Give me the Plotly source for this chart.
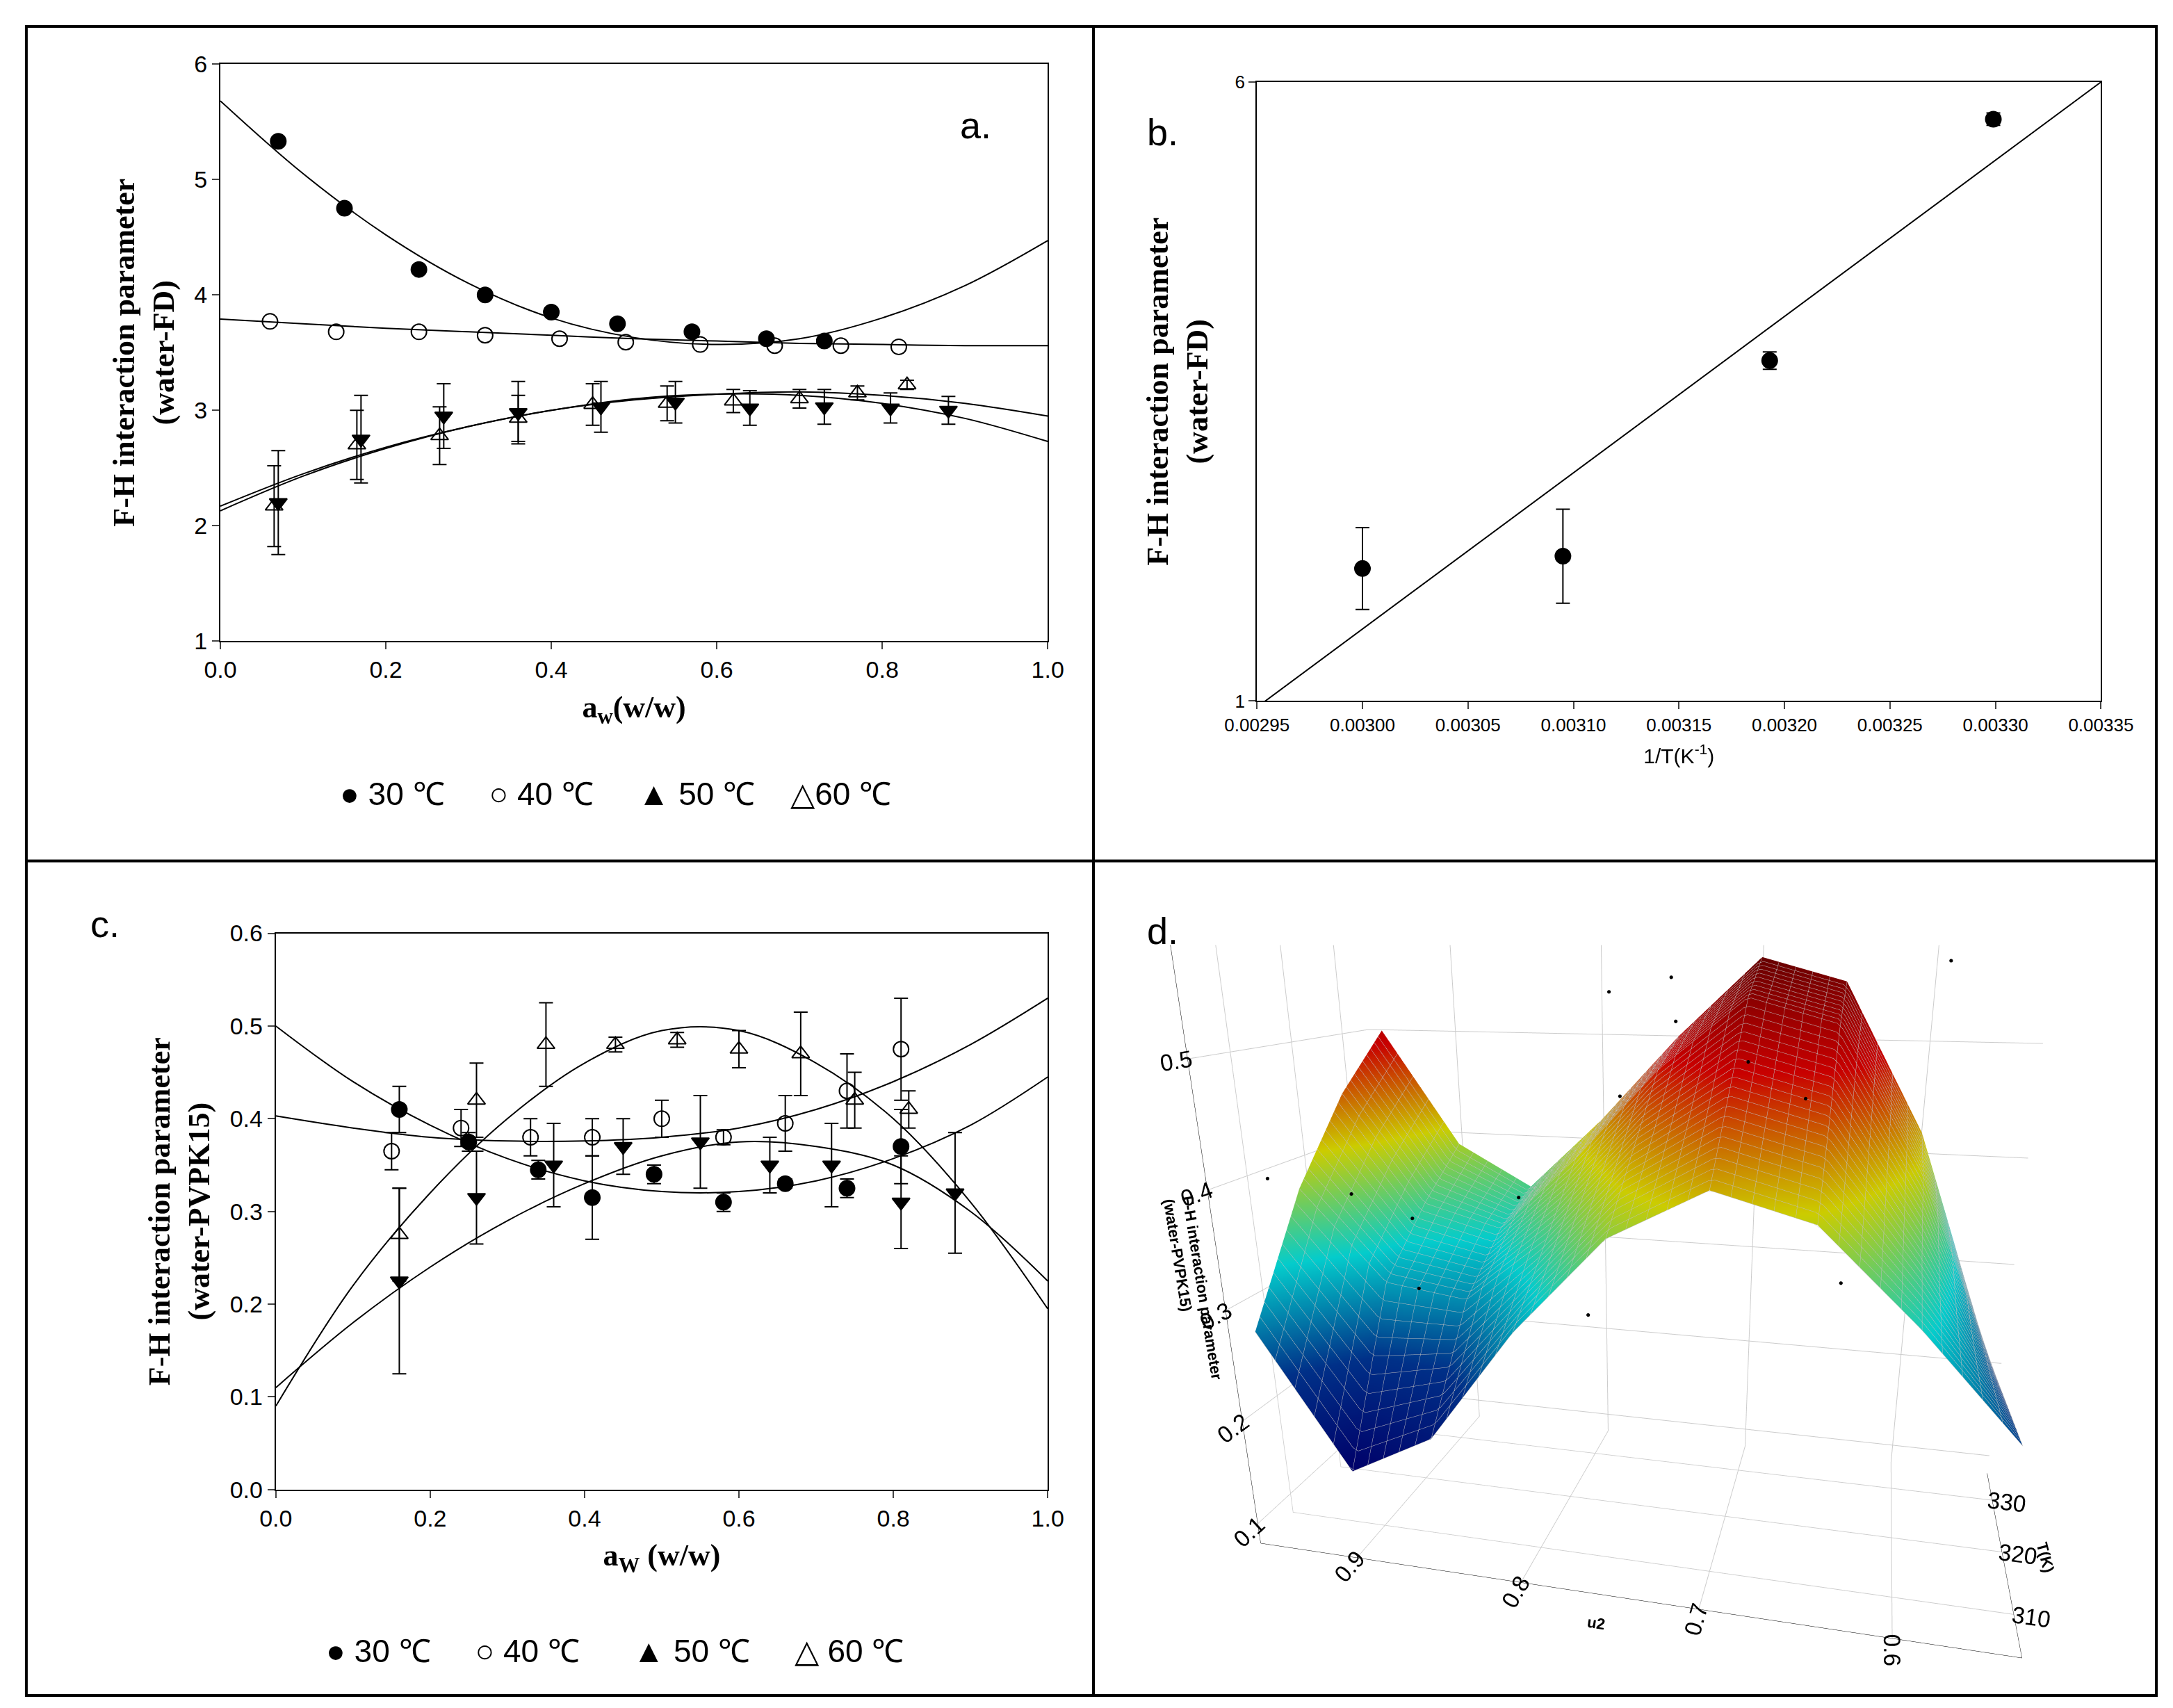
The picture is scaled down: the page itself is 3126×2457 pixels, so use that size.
import plotly.graph_objects as go

W, H = 3126, 2457
def px(x): return x / 1568
def py(y): return 1 - y / 1228

# ---------- Panel a data ----------
a30_x = [0.07, 0.15, 0.24, 0.32, 0.40, 0.48, 0.57, 0.66, 0.73]
a30_y = [5.33, 4.75, 4.22, 4.00, 3.85, 3.75, 3.68, 3.62, 3.60]
a40_x = [0.06, 0.14, 0.24, 0.32, 0.41, 0.49, 0.58, 0.67, 0.75, 0.82]
a40_y = [3.77, 3.68, 3.68, 3.65, 3.62, 3.59, 3.57, 3.56, 3.56, 3.55]
a50_x = [0.07, 0.17, 0.27, 0.36, 0.46, 0.55, 0.64, 0.73, 0.81, 0.88]
a50_y = [2.20, 2.75, 2.95, 2.98, 3.03, 3.07, 3.02, 3.03, 3.02, 3.00]
a50_e = [0.45, 0.38, 0.28, 0.27, 0.22, 0.18, 0.15, 0.15, 0.13, 0.12]
a60_x = [0.065, 0.165, 0.265, 0.36, 0.45, 0.54, 0.62, 0.70, 0.77, 0.83]
a60_y = [2.17, 2.70, 2.78, 2.93, 3.05, 3.06, 3.08, 3.10, 3.15, 3.22]
a60_e = [0.35, 0.30, 0.25, 0.20, 0.18, 0.15, 0.10, 0.08, 0.06, 0.04]
fit_x = [0.0, 0.1, 0.2, 0.3, 0.4, 0.5, 0.6, 0.7, 0.8, 0.9, 1.0]
a30_fit = [5.68, 5.05, 4.52, 4.10, 3.80, 3.63, 3.57, 3.62, 3.80, 4.08, 4.47]
a40_fit = [3.79, 3.75, 3.71, 3.68, 3.65, 3.62, 3.60, 3.58, 3.57, 3.56, 3.56]
a50_fit = [2.13, 2.43, 2.67, 2.86, 3.00, 3.10, 3.14, 3.13, 3.06, 2.93, 2.73]
a60_fit = [2.17, 2.45, 2.68, 2.86, 3.00, 3.09, 3.14, 3.16, 3.13, 3.06, 2.95]

# ---------- Panel b data ----------
b_x = [0.00300, 0.003095, 0.003193, 0.003299]
b_y = [2.07, 2.17, 3.75, 5.70]
b_e = [0.33, 0.38, 0.07, 0.05]
b_line_x = [0.00295, 0.00335]
b_line_y = [0.95, 6.0]

# ---------- Panel c data ----------
c30_x = [0.16, 0.25, 0.34, 0.41, 0.49, 0.58, 0.66, 0.74, 0.81]
c30_y = [0.41, 0.375, 0.345, 0.315, 0.34, 0.31, 0.33, 0.325, 0.37]
c30_e = [0.025, 0.01, 0.01, 0.045, 0.01, 0.01, 0.005, 0.01, 0.04]
c40_x = [0.15, 0.24, 0.33, 0.41, 0.50, 0.58, 0.66, 0.74, 0.81]
c40_y = [0.365, 0.39, 0.38, 0.38, 0.40, 0.38, 0.395, 0.43, 0.475]
c40_e = [0.02, 0.02, 0.02, 0.02, 0.02, 0.008, 0.03, 0.04, 0.055]
c50_x = [0.16, 0.26, 0.36, 0.45, 0.55, 0.64, 0.72, 0.81, 0.88]
c50_y = [0.225, 0.315, 0.35, 0.37, 0.375, 0.35, 0.35, 0.31, 0.32]
c50_e = [0.10, 0.05, 0.045, 0.03, 0.05, 0.03, 0.045, 0.05, 0.065]
c60_x = [0.16, 0.26, 0.35, 0.44, 0.52, 0.60, 0.68, 0.75, 0.82]
c60_y = [0.275, 0.42, 0.48, 0.48, 0.485, 0.475, 0.47, 0.42, 0.41]
c60_e = [0.05, 0.04, 0.045, 0.008, 0.008, 0.02, 0.045, 0.03, 0.02]
c30_fit = [0.50, 0.44, 0.393, 0.357, 0.333, 0.3215, 0.3215, 0.333, 0.357, 0.393, 0.445]
c40_fit = [0.403, 0.39, 0.38, 0.376, 0.376, 0.38, 0.39, 0.41, 0.44, 0.48, 0.53]
c50_fit = [0.11, 0.18, 0.24, 0.29, 0.33, 0.36, 0.375, 0.37, 0.35, 0.30, 0.225]
c60_fit = [0.09, 0.22, 0.32, 0.40, 0.46, 0.495, 0.495, 0.46, 0.40, 0.31, 0.195]

# ---------- Panel d data ----------
d_u2 = [0.55, 0.60, 0.65, 0.70, 0.75, 0.80, 0.85, 0.90, 0.95]
d_T = [305, 315, 325, 335]
d_z = [
    [0.25, 0.33, 0.40, 0.42, 0.38, 0.30, 0.20, 0.16, 0.28],
    [0.24, 0.36, 0.46, 0.48, 0.43, 0.35, 0.29, 0.30, 0.38],
    [0.23, 0.40, 0.52, 0.54, 0.48, 0.40, 0.33, 0.35, 0.45],
    [0.22, 0.42, 0.55, 0.57, 0.50, 0.42, 0.35, 0.39, 0.50],
]
pts_u2 = [0.93, 0.90, 0.88, 0.85, 0.83, 0.80, 0.78, 0.76, 0.74, 0.72, 0.70, 0.68, 0.66, 0.64, 0.62, 0.60, 0.58, 0.92, 0.86, 0.81, 0.75, 0.69, 0.65, 0.61]
pts_T = [305, 310, 315, 305, 320, 308, 330, 312, 325, 306, 318, 332, 309, 322, 335, 314, 328, 330, 325, 334, 307, 313, 327, 331]
pts_z = [0.41, 0.39, 0.36, 0.33, 0.30, 0.40, 0.45, 0.38, 0.52, 0.56, 0.42, 0.55, 0.48, 0.31, 0.36, 0.57, 0.33, 0.25, 0.28, 0.22, 0.55, 0.50, 0.45, 0.32]

fig = go.Figure()
AX = dict(showline=True, linecolor="black", linewidth=2, mirror=True, ticks="outside",
          ticklen=10, tickwidth=2, showgrid=False, zeroline=False, automargin=False,
          tickfont=dict(family="Liberation Sans", size=34, color="black"))
serif = dict(family="Liberation Serif", size=44, color="black")

def mk(sym, filled):
    return dict(symbol=sym if filled else sym + "-open", size=22, color="black",
                line=dict(color="black", width=2))

ebar = lambda e: dict(type="data", array=e, color="black", thickness=2, width=10)

for fy in [a30_fit, a40_fit, a50_fit, a60_fit]:
    fig.add_trace(go.Scatter(x=fit_x, y=fy, mode="lines", line=dict(color="black", width=2, shape="spline"),
                             xaxis="x", yaxis="y"))
fig.add_trace(go.Scatter(x=a30_x, y=a30_y, mode="markers", marker=mk("circle", True), xaxis="x", yaxis="y"))
fig.add_trace(go.Scatter(x=a40_x, y=a40_y, mode="markers", marker=mk("circle", False), xaxis="x", yaxis="y"))
fig.add_trace(go.Scatter(x=a50_x, y=a50_y, error_y=ebar(a50_e), mode="markers", marker=mk("triangle-down", True), xaxis="x", yaxis="y"))
fig.add_trace(go.Scatter(x=a60_x, y=a60_y, error_y=ebar(a60_e), mode="markers", marker=mk("triangle-up", False), xaxis="x", yaxis="y"))

fig.add_trace(go.Scatter(x=b_line_x, y=b_line_y, mode="lines", line=dict(color="black", width=2), xaxis="x2", yaxis="y2"))
fig.add_trace(go.Scatter(x=b_x, y=b_y, error_y=ebar(b_e), mode="markers", marker=mk("circle", True), xaxis="x2", yaxis="y2"))

for fy in [c30_fit, c40_fit, c50_fit, c60_fit]:
    fig.add_trace(go.Scatter(x=fit_x, y=fy, mode="lines", line=dict(color="black", width=2, shape="spline"),
                             xaxis="x3", yaxis="y3"))
for xs, ys, es, m in [(c30_x, c30_y, c30_e, mk("circle", True)), (c40_x, c40_y, c40_e, mk("circle", False)),
                      (c50_x, c50_y, c50_e, mk("triangle-down", True)), (c60_x, c60_y, c60_e, mk("triangle-up", False))]:
    fig.add_trace(go.Scatter(x=xs, y=ys, error_y=ebar(es), mode="markers", marker=m, xaxis="x3", yaxis="y3"))

fig.add_trace(go.Surface(x=d_u2, y=d_T, z=d_z, colorscale="Jet", showscale=False,
                         contours=dict(x=dict(show=True, color="rgba(0,0,0,0.25)", start=0.55, end=0.95, size=0.01),
                                       y=dict(show=True, color="rgba(0,0,0,0.25)", start=305, end=335, size=1)),
                         scene="scene"))
fig.add_trace(go.Scatter3d(x=pts_u2, y=pts_T, z=pts_z, mode="markers", marker=dict(size=3, color="black"),
                           scene="scene"))

ax3 = dict(showbackground=False, gridcolor="#cccccc", showline=True, linecolor="black",
           tickfont=dict(family="Liberation Sans", size=20, color="black"),
           title_font=dict(family="Liberation Sans", size=22, color="black"))

fig.update_layout(
    width=W, height=H, paper_bgcolor="white", plot_bgcolor="white",
    margin=dict(l=0, r=0, t=0, b=0, autoexpand=False), showlegend=False,
    xaxis=dict(AX, domain=[px(155), px(752)], range=[0, 1], dtick=0.2, tickformat=".1f", anchor="y",
               title=dict(text="<b>a<sub>w</sub>(w/w)</b>", font=serif, standoff=20)),
    yaxis=dict(AX, domain=[py(457), py(42)], range=[1, 6], dtick=1, anchor="x",
               title=dict(text="<b>F-H interaction parameter<br>(water-FD)</b>", font=serif, standoff=15)),
    xaxis2=dict(AX, domain=[px(903), px(1512)], range=[0.00295, 0.00335], dtick=0.00005, tickformat=".5f", anchor="y2",
                tickfont=dict(family="Liberation Sans", size=26, color="black"),
                title=dict(text="1/T(K<sup>-1</sup>)", font=dict(family="Liberation Sans", size=30, color="black"), standoff=20)),
    yaxis2=dict(AX, domain=[py(500), py(55)], range=[1, 6], tickvals=[1, 6], anchor="x2",
                tickfont=dict(family="Liberation Sans", size=26, color="black"),
                title=dict(text="<b>F-H interaction parameter<br>(water-FD)</b>", font=serif, standoff=25)),
    xaxis3=dict(AX, domain=[px(195), px(752)], range=[0, 1], dtick=0.2, tickformat=".1f", anchor="y3",
                title=dict(text="<b>a<sub>W</sub> (w/w)</b>", font=serif, standoff=20)),
    yaxis3=dict(AX, domain=[py(1067), py(667)], range=[0, 0.6], dtick=0.1, tickformat=".1f", anchor="x3",
                title=dict(text="<b>F-H interaction parameter<br>(water-PVPK15)</b>", font=serif, standoff=15)),
    scene=dict(domain=dict(x=[0.52, 0.99], y=[0.02, 0.49]),
               xaxis=dict(ax3, title=dict(text="<b>u2</b>"), autorange="reversed", tickvals=[0.6, 0.7, 0.8, 0.9]),
               yaxis=dict(ax3, title=dict(text="<b>T(K)</b>"), tickvals=[310, 320, 330]),
               zaxis=dict(ax3, title=dict(text="<b>F-H interaction parameter<br>(water-PVPK15)</b>"), range=[0.08, 0.58],
                          tickvals=[0.1, 0.2, 0.3, 0.4, 0.5]),
               aspectmode="manual", aspectratio=dict(x=1.4, y=0.6, z=1.1),
               camera=dict(eye=dict(x=0.4, y=-1.7, z=0.55), center=dict(x=0, y=0, z=-0.05))),
)

lab = dict(family="Liberation Sans", size=54, color="black")
leg = dict(family="Liberation Sans", size=46, color="black")
fig.add_annotation(x=px(700), y=py(70), xref="paper", yref="paper", text="a.", showarrow=False, font=lab)
fig.add_annotation(x=px(835), y=py(75), xref="paper", yref="paper", text="b.", showarrow=False, font=lab)
fig.add_annotation(x=px(60), y=py(660), xref="paper", yref="paper", text="c.", showarrow=False, font=lab)
fig.add_annotation(x=px(835), y=py(665), xref="paper", yref="paper", text="d.", showarrow=False, font=lab)
fig.add_annotation(x=px(440), y=py(567), xref="paper", yref="paper", xanchor="center", showarrow=False, font=leg,
                   text="● 30 ℃&nbsp;&nbsp;&nbsp;&nbsp;&nbsp;○ 40 ℃&nbsp;&nbsp;&nbsp;&nbsp;&nbsp;▲ 50 ℃&nbsp;&nbsp;&nbsp;&nbsp;△60 ℃")
fig.add_annotation(x=px(440), y=py(1197), xref="paper", yref="paper", xanchor="center", showarrow=False, font=leg,
                   text="● 30 ℃&nbsp;&nbsp;&nbsp;&nbsp;&nbsp;○ 40 ℃&nbsp;&nbsp;&nbsp;&nbsp;&nbsp;&nbsp;▲ 50 ℃&nbsp;&nbsp;&nbsp;&nbsp;&nbsp;△ 60 ℃")

ln = dict(color="black", width=4)
fig.add_shape(type="rect", xref="paper", yref="paper", x0=px(15), x1=px(1552), y0=py(1215), y1=py(15), line=ln)
fig.add_shape(type="line", xref="paper", yref="paper", x0=px(785), x1=px(785), y0=py(1215), y1=py(15), line=ln)
fig.add_shape(type="line", xref="paper", yref="paper", x0=px(15), x1=px(1552), y0=py(615), y1=py(615), line=ln)

fig.write_html("out.html")
